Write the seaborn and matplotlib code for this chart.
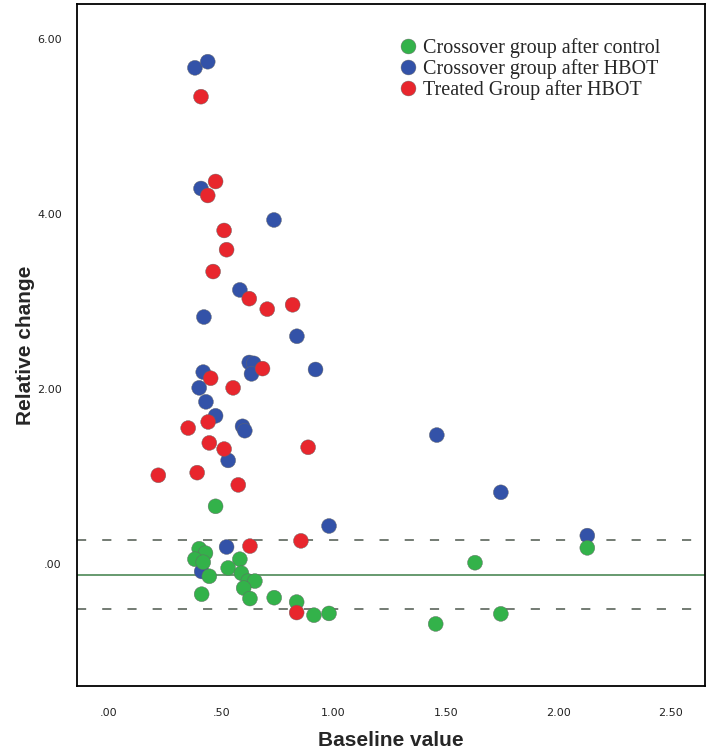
import numpy as np
import pandas as pd
import matplotlib.pyplot as plt
import seaborn as sns
from matplotlib.ticker import FuncFormatter

# values
blue_x = [0.383, 0.44, 0.41, 0.735, 0.583, 0.423, 0.837, 0.625, 0.645, 0.635, 0.92, 0.42,
          0.402, 0.432, 0.475, 0.595, 0.605, 0.531, 0.98, 0.524, 0.413, 1.46, 1.745, 2.13]
blue_y = [5.67, 5.74, 4.29, 3.93, 3.13, 2.82, 2.60, 2.30, 2.29, 2.17, 2.22, 2.19,
          2.01, 1.85, 1.69, 1.57, 1.52, 1.18, 0.43, 0.19, -0.09, 1.47, 0.815, 0.32]

green_x = [0.402, 0.43, 0.383, 0.42, 0.583, 0.531, 0.447, 0.59, 0.62, 0.65, 0.60, 0.413,
           0.628, 0.736, 0.836, 0.913, 0.98, 0.475, 1.455, 1.63, 1.745, 2.13]
green_y = [0.17, 0.12, 0.05, 0.015, 0.05, -0.05, -0.145, -0.11, -0.20, -0.20, -0.28, -0.35,
           -0.40, -0.39, -0.44, -0.59, -0.57, 0.655, -0.69, 0.01, -0.575, 0.18]

red_x = [0.41, 0.475, 0.44, 0.513, 0.524, 0.464, 0.625, 0.705, 0.818, 0.684, 0.453, 0.553,
         0.442, 0.353, 0.447, 0.513, 0.22, 0.393, 0.576, 0.887, 0.855, 0.628, 0.836]
red_y = [5.34, 4.37, 4.21, 3.81, 3.59, 3.34, 3.03, 2.91, 2.96, 2.23, 2.12, 2.01,
         1.62, 1.55, 1.38, 1.31, 1.01, 1.04, 0.90, 1.33, 0.26, 0.20, -0.56]

groups = ["Crossover group after control", "Crossover group after HBOT", "Treated Group after HBOT"]
colors = ["#33b24a", "#3352a8", "#e8262d"]

mean_line = -0.13
upper_line = 0.265
lower_line = -0.515

x_ticks = [0, 0.5, 1.0, 1.5, 2.0, 2.5]
y_ticks = [0, 2, 4, 6]

df = pd.concat([
    pd.DataFrame({"x": blue_x, "y": blue_y, "group": groups[1]}),
    pd.DataFrame({"x": green_x, "y": green_y, "group": groups[0]}),
    pd.DataFrame({"x": red_x, "y": red_y, "group": groups[2]}),
], ignore_index=True)

sns.set_style("white")

fig = plt.figure(figsize=(7.12, 7.56), dpi=100)
ax = fig.add_axes([77/712, 1 - 686/756, 628/712, 682/756])

sns.scatterplot(data=df, x="x", y="y", hue="group", hue_order=groups,
                palette=dict(zip(groups, colors)), s=115, edgecolor="#666666",
                linewidth=0.3, ax=ax, legend=True, zorder=3)

ax.axhline(mean_line, color="#3d7f48", lw=1.1, zorder=2)
ax.axhline(upper_line, color="#4d574d", lw=1.1, ls=(0, (6, 10.5)), zorder=2)
ax.axhline(lower_line, color="#4d574d", lw=1.1, ls=(0, (6, 10.5)), zorder=2)

ax.set_xlim(-0.142, 2.654)
ax.set_ylim(-1.40, 6.40)
ax.set_xticks(x_ticks)
ax.set_yticks(y_ticks)
fmt = FuncFormatter(lambda v, p: f"{v:.2f}".lstrip("0") if v < 1 else f"{v:.2f}")
ax.xaxis.set_major_formatter(fmt)
ax.yaxis.set_major_formatter(fmt)
ax.tick_params(axis="both", direction="out", length=7, width=1.3, color="black",
               labelsize=8, labelcolor="#222222", pad=4)
ax.tick_params(axis="x", pad=9)

for sp in ax.spines.values():
    sp.set_color("black")
    sp.set_linewidth(1.3)

ax.set_xlabel("Baseline value", fontsize=15, fontweight="bold", family="Liberation Sans", labelpad=9)
ax.set_ylabel("Relative change", fontsize=15, fontweight="bold", family="Liberation Sans")
ax.yaxis.set_label_coords((35 - 77) / 628, 0.5)

handles, labels = ax.get_legend_handles_labels()
ax.legend(handles, labels, loc="upper left", bbox_to_anchor=(0.515, 0.95), frameon=False,
          prop={"family": "Liberation Serif", "size": 14.5}, handlelength=0.8, handletextpad=0.3,
          labelspacing=0.05, borderpad=0, borderaxespad=0, markerscale=1.0)

plt.savefig("out.png", dpi=100)
